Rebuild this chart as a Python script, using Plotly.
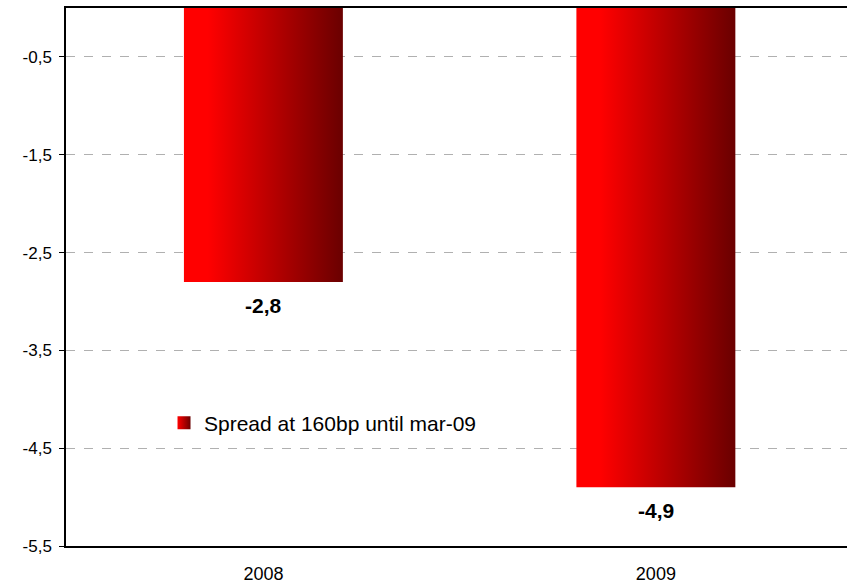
import plotly.graph_objects as go

categories = ["2008", "2009"]
values = [-2.8, -4.9]
series_name = "Spread at 160bp until mar-09"
y_ticks = [-0.5, -1.5, -2.5, -3.5, -4.5, -5.5]

BAR_WIDTH = 0.405
RED, DARK = "#ff0000", "#6a0000"
GRADIENT = [[0.0, RED], [0.15, RED], [1.0, DARK]]
FONT = "Liberation Sans, Arial"


def fmt(v):
    return f"{v:.1f}".replace(".", ",")


fig = go.Figure()

# each bar is a filled rectangle so it can carry a left-to-right gradient
for i, (cat, v) in enumerate(zip(categories, values)):
    x0, x1 = i - BAR_WIDTH / 2, i + BAR_WIDTH / 2
    fig.add_trace(go.Scatter(
        x=[x0, x1, x1, x0, x0],
        y=[0, 0, v, v, 0],
        mode="lines",
        line=dict(width=0, color="#b00000"),
        fill="toself",
        fillgradient=dict(type="horizontal", colorscale=GRADIENT),
        showlegend=False,
        hoverinfo="skip",
    ))
    fig.add_annotation(
        x=i, y=v, text=f"<b>{fmt(v)}</b>", showarrow=False,
        yanchor="top", yshift=-10,
        font=dict(family=FONT, size=21, color="#000"),
    )

# legend entry: small square swatch with the same gradient
fig.add_trace(go.Scatter(
    x=[None], y=[None], mode="markers", name=series_name,
    marker=dict(symbol="square", size=13, color=RED,
                gradient=dict(type="horizontal", color=DARK),
                line=dict(width=0)),
))

fig.update_layout(
    width=847, height=585,
    margin=dict(l=66, r=0, t=8, b=39),
    paper_bgcolor="white", plot_bgcolor="white",
    font=dict(family=FONT, size=17, color="#000"),
    showlegend=True,
    legend=dict(
        x=0.1255, y=0.2286, xanchor="left", yanchor="middle",
        bgcolor="rgba(0,0,0,0)", font=dict(size=21),
        itemwidth=30,
    ),
    xaxis=dict(
        range=[-0.503, 1.487], tickvals=list(range(len(categories))),
        ticktext=categories, showgrid=False, zeroline=False,
        showline=True, linecolor="#000", linewidth=1.5, mirror=True,
        ticks="", ticklabelstandoff=11, fixedrange=True,
        tickfont=dict(size=18),
    ),
    yaxis=dict(
        range=[-5.5, 0], tickvals=y_ticks, ticktext=[fmt(t) for t in y_ticks],
        showgrid=True, gridcolor="#b0b0b0", griddash="dash", gridwidth=1,
        zeroline=False, showline=True, linecolor="#000", linewidth=1.5,
        ticks="outside", ticklen=5, tickcolor="#000", ticklabelstandoff=4,
        tickfont=dict(size=17),
    ),
)

fig.write_html("out.html")
